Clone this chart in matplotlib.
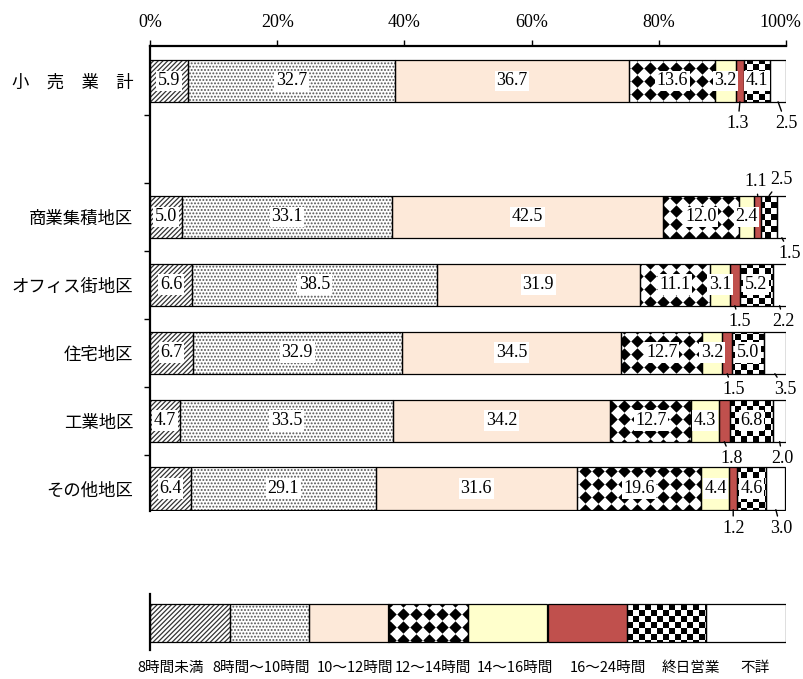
import numpy as np
import matplotlib.pyplot as plt
import matplotlib.transforms as mtransforms

plt.rcParams['font.family'] = ['Liberation Serif', 'Noto Sans CJK JP']
plt.rcParams['hatch.linewidth'] = 0.9

# 営業時間別の店舗構成比 (%)
areas = ['小　売　業　計', '商業集積地区', 'オフィス街地区', '住宅地区', '工業地区', 'その他地区']
hours = ['8時間未満', '8時間～10時間', '10～12時間', '12～14時間',
         '14～16時間', '16～24時間', '終日営業', '不詳']
total = [5.9, 32.7, 36.7, 13.6, 3.2, 1.3, 4.1, 2.5]
shopping = [5.0, 33.1, 42.5, 12.0, 2.4, 1.1, 2.5, 1.5]
office = [6.6, 38.5, 31.9, 11.1, 3.1, 1.5, 5.2, 2.2]
housing = [6.7, 32.9, 34.5, 12.7, 3.2, 1.5, 5.0, 3.5]
industrial = [4.7, 33.5, 34.2, 12.7, 4.3, 1.8, 6.8, 2.0]
other = [6.4, 29.1, 31.6, 19.6, 4.4, 1.2, 4.6, 3.0]
rows = [total, shopping, office, housing, industrial, other]

# row slots (slot 1 left empty under the total)
slots = [0, 2, 3, 4, 5, 6]
bar_h = 0.62

fills = ['white', 'white', '#FDE9D9', 'white', '#FFFFCC', '#C0504D', 'white', 'white']
hatches = ['///////', '.....', None, None, None, None, None, None]
hatch_cols = ['#333333', '#555555', 'none', 'none', 'none', 'none', 'none', 'none']
patterns = [None, None, None, 'diamond', None, None, 'checker', None]

# labels drawn outside the bar: (row, segment) -> offset in pixels
outside = {
    (0, 5): (-2, -22), (0, 7): (8, -22),
    (1, 5): (-2, 14), (1, 6): (12, 16), (1, 7): (8, -16),
    (2, 5): (5, -16), (2, 7): (4, -16),
    (3, 5): (6, -16), (3, 7): (10, -16),
    (4, 5): (7, -17), (4, 7): (3, -17),
    (5, 5): (0, -19), (5, 7): (5, -19),
}


def add_pattern(axis, patch, kind):
    # fill a segment with a repeating mark pattern, clipped to the segment
    to_px = axis.transData
    (px0, py0), (px1, py1) = to_px.transform([(patch.get_x(), patch.get_y()),
                                              (patch.get_x() + patch.get_width(),
                                               patch.get_y() + patch.get_height())])
    lo_x, hi_x = min(px0, px1), max(px0, px1)
    lo_y, hi_y = min(py0, py1), max(py0, py1)
    if kind == 'diamond':
        step, marker, size = 13.0, 'D', 40
    else:
        step, marker, size = 6.0, 's', 19
    gx = np.arange(np.floor(lo_x / step) - 1, np.ceil(hi_x / step) + 2) * step
    gy = np.arange(np.floor(lo_y / step) - 1, np.ceil(hi_y / step) + 2) * step
    X, Y = np.meshgrid(gx, gy)
    if kind == 'checker':
        keep = ((np.round(X / step) + np.round(Y / step)) % 2) == 0
        X, Y = X[keep], Y[keep]
    pts = to_px.inverted().transform(np.column_stack([X.ravel(), Y.ravel()]))
    sc = axis.scatter(pts[:, 0], pts[:, 1], s=size, marker=marker, c='black',
                      linewidths=0, zorder=2)
    sc.set_clip_path(patch)


def draw_segment(axis, y, left, width, h, j):
    bar = axis.barh(y, width, left=left, height=h, color=fills[j], hatch=hatches[j],
                    edgecolor=hatch_cols[j], linewidth=0, zorder=1)[0]
    if patterns[j]:
        add_pattern(axis, bar, patterns[j])
    axis.barh(y, width, left=left, height=h, fill=False, edgecolor='black',
              linewidth=0.9, zorder=3)


fig = plt.figure(figsize=(8.04, 6.79), dpi=100)
ax = fig.add_axes([150 / 804, 1 - 511 / 679, 636 / 804, 465 / 679])
ax.set_xlim(0, 100)
ax.set_ylim(6.33, -0.51)

for i, vals in enumerate(rows):
    y = slots[i]
    left = 0.0
    for j, v in enumerate(vals):
        draw_segment(ax, y, left, v, bar_h, j)
        cx = left + v / 2
        if (i, j) in outside:
            dx, dy = outside[(i, j)]
            edge = y - bar_h / 2 if dy > 0 else y + bar_h / 2
            ax.annotate(f'{v:.1f}', xy=(cx, edge), xytext=(dx, dy),
                        textcoords='offset pixels', ha='center', va='center',
                        fontsize=13, zorder=5,
                        arrowprops=dict(arrowstyle='-', lw=1, color='black',
                                        shrinkA=1, shrinkB=0))
        else:
            ax.text(cx, y, f'{v:.1f}', ha='center', va='center', fontsize=13,
                    zorder=5, bbox=dict(fc='white', ec='none', pad=1.2))
        left += v

# top percentage axis
ax.xaxis.tick_top()
ax.set_xticks(range(0, 101, 20))
ax.set_xticklabels([f'{t}%' for t in range(0, 101, 20)], fontsize=13)
ax.tick_params(axis='x', direction='out', length=4.5, width=1, pad=6)
last = ax.get_xticklabels()[-1]
last.set_transform(mtransforms.offset_copy(last.get_transform(), fig=fig,
                                           x=-6, y=0, units='dots'))

ax.set_yticks([0.5, 1.5, 2.5, 3.5, 4.5, 5.5])
ax.set_yticklabels([])
ax.tick_params(axis='y', which='major', direction='out', length=4.5, width=1)
ax.set_yticks(slots, minor=True)
ax.set_yticklabels(areas, minor=True, family='Noto Sans CJK JP', fontsize=12.5)
ax.tick_params(axis='y', which='minor', length=0, pad=12)

for s in ['right', 'bottom']:
    ax.spines[s].set_visible(False)
for s in ['top', 'left']:
    ax.spines[s].set_linewidth(1.6)

# legend strip
lax = fig.add_axes([150 / 804, 1 - 650 / 679, 636 / 804, 56 / 679])
lax.set_xlim(0, len(hours))
lax.set_ylim(0, 1)
for j in range(len(hours)):
    draw_segment(lax, 0.48, j, 1, 0.68, j)
lax.set_xticks([])
lax.set_yticks([])
for s in ['right', 'bottom', 'top']:
    lax.spines[s].set_visible(False)
lax.spines['left'].set_linewidth(1.6)

label_x = [0.033, 0.175, 0.322, 0.445, 0.574, 0.72, 0.85, 0.951]
for lx, name in zip(label_x, hours):
    lax.text(lx, -0.32, name, transform=lax.transAxes, ha='center', va='center',
             family='Noto Sans CJK JP', fontsize=10.5)

fig.savefig('out.png', dpi=100)
